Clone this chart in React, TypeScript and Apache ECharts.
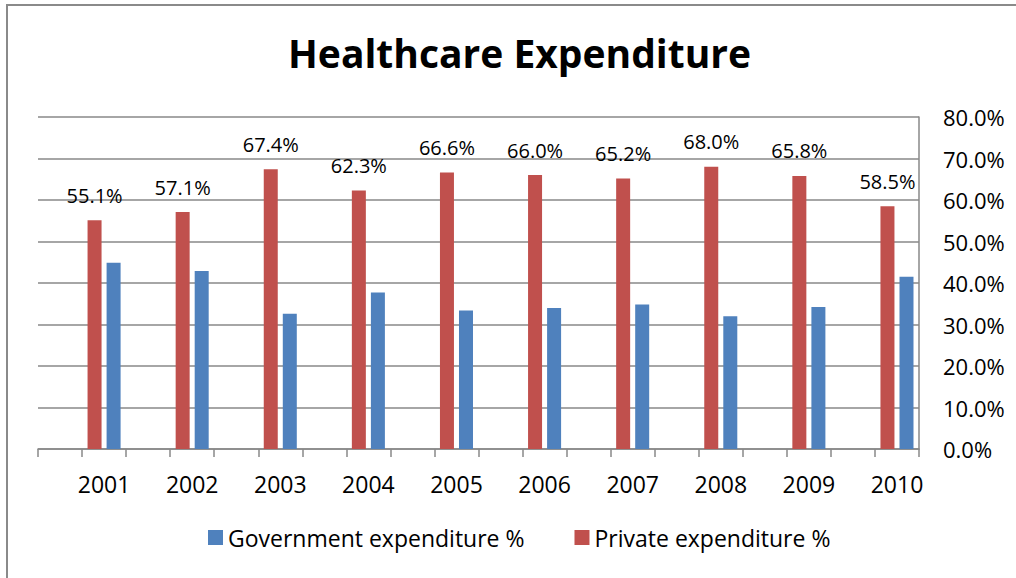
import React, { useEffect, useRef } from "react";
import * as echarts from "echarts";

const years = ["2001", "2002", "2003", "2004", "2005", "2006", "2007", "2008", "2009", "2010"];
const privateExp = [55.1, 57.1, 67.4, 62.3, 66.6, 66.0, 65.2, 68.0, 65.8, 58.5];
const governmentExp = [44.9, 42.9, 32.6, 37.7, 33.4, 34.0, 34.8, 32.0, 34.2, 41.5];
const yTicks = [0, 10, 20, 30, 40, 50, 60, 70, 80];

const FONT = "'Open Sans', sans-serif";

export default function App() {
  const ref = useRef<HTMLDivElement>(null);
  useEffect(() => {
    if (!ref.current) return;
    const chart = echarts.init(ref.current, undefined, { renderer: "svg" });
    // each year occupies an odd slot in a 20-slot axis (Excel-like tick spacing)
    const cats: string[] = [];
    const priv: (number | null)[] = [];
    const gov: (number | null)[] = [];
    years.forEach((y, i) => {
      cats.push("", y);
      priv.push(null, privateExp[i]);
      gov.push(null, governmentExp[i]);
    });
    chart.setOption({
      animation: false,
      backgroundColor: "#fff",
      title: {
        text: "Healthcare Expenditure",
        left: 283,
        top: 28,
        textStyle: { fontFamily: FONT, fontWeight: "bold", fontSize: 39, color: "#000" },
      },
      graphic: [
        {
          type: "rect",
          shape: { x: 7, y: 5, width: 1100, height: 700 },
          style: { fill: "none", stroke: "#8a8a8a", lineWidth: 2 },
          silent: true,
        },
      ],
      legend: {
        bottom: 24,
        left: 203,
        data: ["Government expenditure %", "Private expenditure %"],
        itemWidth: 15,
        itemHeight: 15,
        itemGap: 50,
        icon: "rect",
        textStyle: { fontFamily: FONT, fontSize: 23, color: "#000" },
      },
      grid: { left: 38, right: 97, top: 117, bottom: 129, containLabel: false },
      xAxis: {
        type: "category",
        data: cats,
        boundaryGap: true,
        axisLine: { show: true, lineStyle: { color: "#888", width: 1.5 } },
        axisTick: { show: true, interval: 0, length: 8, alignWithLabel: false, lineStyle: { color: "#888", width: 1.5 } },
        axisLabel: { interval: 0, margin: 23, fontFamily: FONT, fontSize: 23, color: "#000" },
        splitLine: { show: false },
      },
      yAxis: {
        type: "value",
        position: "right",
        min: yTicks[0],
        max: yTicks[yTicks.length - 1],
        interval: 10,
        axisLine: { show: true, lineStyle: { color: "#888", width: 1.5 } },
        axisTick: { show: false },
        axisLabel: {
          margin: 24,
          fontFamily: FONT,
          fontSize: 22,
          color: "#000",
          formatter: (v: number) => v.toFixed(1) + "%",
        },
        splitLine: { show: true, lineStyle: { color: "#888", width: 1.5 } },
      },
      series: [
        {
          name: "Private expenditure %",
          type: "bar",
          data: priv,
          barWidth: 14,
          barGap: "36%",
          itemStyle: { color: "#C0504D" },
          label: {
            show: true,
            position: "top",
            distance: 15,
            fontFamily: FONT,
            fontSize: 20,
            color: "#000",
            formatter: (p: any) => (p.value == null ? "" : Number(p.value).toFixed(1) + "%"),
          },
        },
        {
          name: "Government expenditure %",
          type: "bar",
          data: gov,
          barWidth: 14,
          barGap: "36%",
          itemStyle: { color: "#4F81BD" },
        },
      ],
    });
    return () => chart.dispose();
  }, []);
  return (
    <div
      ref={ref}
      style={{ position: "fixed", left: 0, top: 0, width: 1016, height: 578 }}
    />
  );
}
